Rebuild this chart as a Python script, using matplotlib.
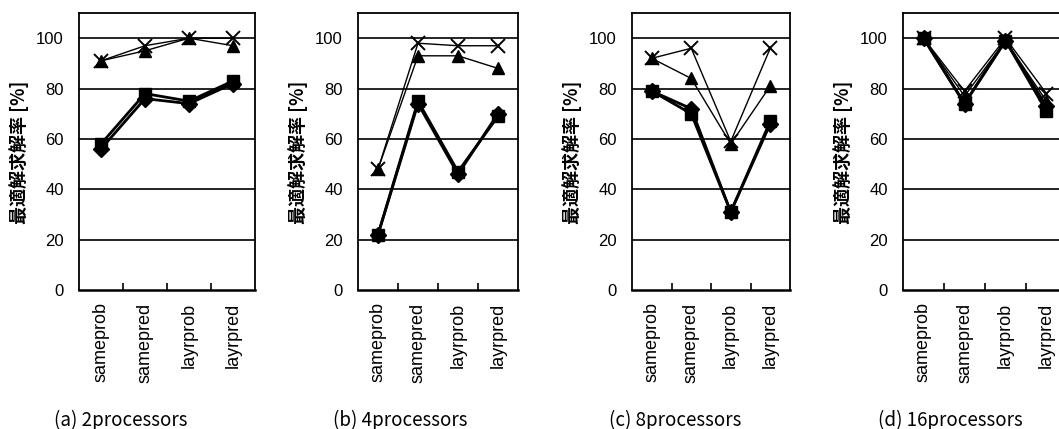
import matplotlib
matplotlib.use("Agg")
import matplotlib.pyplot as plt
import numpy as np

categories = ["sameprob", "samepred", "layrprob", "layrpred"]
panel_titles = ["(a) 2processors", "(b) 4processors", "(c) 8processors", "(d) 16processors"]
y_ticks = [0, 20, 40, 60, 80, 100]
ylabel_text = "最適解求解率 [%]"

# series values per panel (x marker, triangle, diamond, square)
cross_vals = [[91, 97, 100, 100], [48, 98, 97, 97], [92, 96, 59, 96], [100, 79, 100, 78]]
tri_vals = [[91, 95, 100, 97], [48, 93, 93, 88], [92, 84, 58, 81], [100, 77, 99, 75]]
diam_vals = [[56, 76, 74, 82], [22, 74, 46, 70], [79, 72, 31, 66], [100, 74, 99, 73]]
sq_vals = [[58, 78, 75, 83], [22, 75, 47, 69], [79, 70, 31, 67], [100, 74, 99, 71]]

W, H = 1059, 429
fig = plt.figure(figsize=(W / 100, H / 100), dpi=100)

# axes pixel boxes (left, right)
boxes = [(79, 255), (358, 518), (632, 790), (903, 1067)]
top_px, bot_px = 13, 290
caption_x = [121, 400, 675, 950]

tick_font = "Liberation Sans"
cjk = ["Noto Sans CJK JP", "DejaVu Sans"]

x = np.arange(len(categories))
for i, (l, r) in enumerate(boxes):
    ax = fig.add_axes([l / W, 1 - bot_px / H, (r - l) / W, (bot_px - top_px) / H])
    ax.set_xlim(-0.5, len(categories) - 0.5)
    ax.set_ylim(0, 110)
    for yv in y_ticks[1:]:
        ax.axhline(yv, color="black", lw=1.2, zorder=1)
    ax.plot(x, cross_vals[i], color="black", lw=1.0, marker="x", ms=10, mew=1.4, zorder=3)
    ax.plot(x, tri_vals[i], color="black", lw=1.0, marker="^", ms=9, zorder=4)
    ax.plot(x, diam_vals[i], color="black", lw=2.0, marker="D", ms=8, zorder=5)
    ax.plot(x, sq_vals[i], color="black", lw=2.0, marker="s", ms=9, zorder=6)

    ax.set_yticks(y_ticks)
    ax.set_yticklabels([str(v) for v in y_ticks], fontsize=12, family=tick_font)
    ax.tick_params(axis="y", length=0, pad=11)

    ax.set_xticks(x[:-1] + 0.5)
    ax.set_xticklabels([])
    ax.tick_params(axis="x", which="major", direction="in", length=5, width=1.2)
    ax.set_xticks(x, minor=True)
    ax.set_xticklabels(categories, minor=True, rotation=90, fontsize=13,
                       family=tick_font, va="top", ha="center")
    ax.tick_params(axis="x", which="minor", length=0, pad=9)

    for s in ax.spines.values():
        s.set_linewidth(1.3)
        s.set_color("black")
    ax.spines["bottom"].set_linewidth(1.8)

    fig.text((l - 60) / W, 1 - 152 / H, ylabel_text, rotation=90, ha="center",
             va="center", fontsize=13, family=cjk, weight="bold")
    fig.text(caption_x[i] / W, 1 - 420 / H, panel_titles[i], ha="center",
             va="center", fontsize=13.5, family=cjk)

fig.savefig("out.png", dpi=100)
